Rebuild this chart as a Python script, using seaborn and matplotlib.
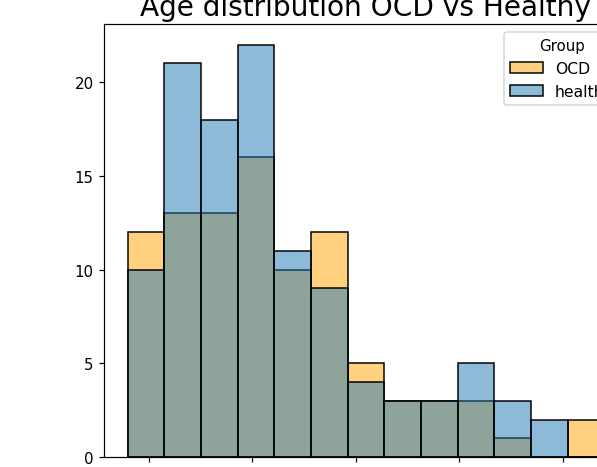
import matplotlib
matplotlib.use("Agg")
import matplotlib.pyplot as plt
import numpy as np
import pandas as pd
import seaborn as sns

# Data (age histogram, 13 common bins)
bin_edges = [18.0, 21.54, 25.08, 28.62, 32.15, 35.69, 39.23,
             42.77, 46.31, 49.85, 53.38, 56.92, 60.46, 64.0]
ocd_counts = [12, 13, 13, 16, 10, 12, 5, 3, 3, 3, 1, 0, 2]
healthy_counts = [10, 21, 18, 22, 11, 9, 4, 3, 3, 5, 3, 2, 0]
groups = ["OCD", "healthy"]
colors = {"OCD": "orange", "healthy": "tab:blue"}
title = "Age distribution OCD vs Healthy"

edges = np.array(bin_edges)
centers = (edges[:-1] + edges[1:]) / 2
df = pd.concat([
    pd.DataFrame({"Age": centers, "Count": ocd_counts, "Group": "OCD"}),
    pd.DataFrame({"Age": centers, "Count": healthy_counts, "Group": "healthy"}),
], ignore_index=True)

DPI = 108
fig = plt.figure(figsize=(597 / DPI, 468 / DPI), dpi=DPI)
ax = fig.add_axes([104 / 597, 10 / 468, (628 - 104) / 597, (458 - 25) / 468])

for g in groups:
    sub = df[df["Group"] == g]
    sns.histplot(data=sub, x="Age", weights="Count", bins=bin_edges,
                 color=colors[g], alpha=0.5, edgecolor="black",
                 label=g, ax=ax)

ax.set_ylabel("")
ax.set_xlabel("Age")
ax.set_title(title, fontsize=18.7)
ax.legend(title="Group", loc="upper right", fontsize=10.4,
          title_fontsize=10, handlelength=2.1)

fig.savefig("out.png", dpi=DPI)
